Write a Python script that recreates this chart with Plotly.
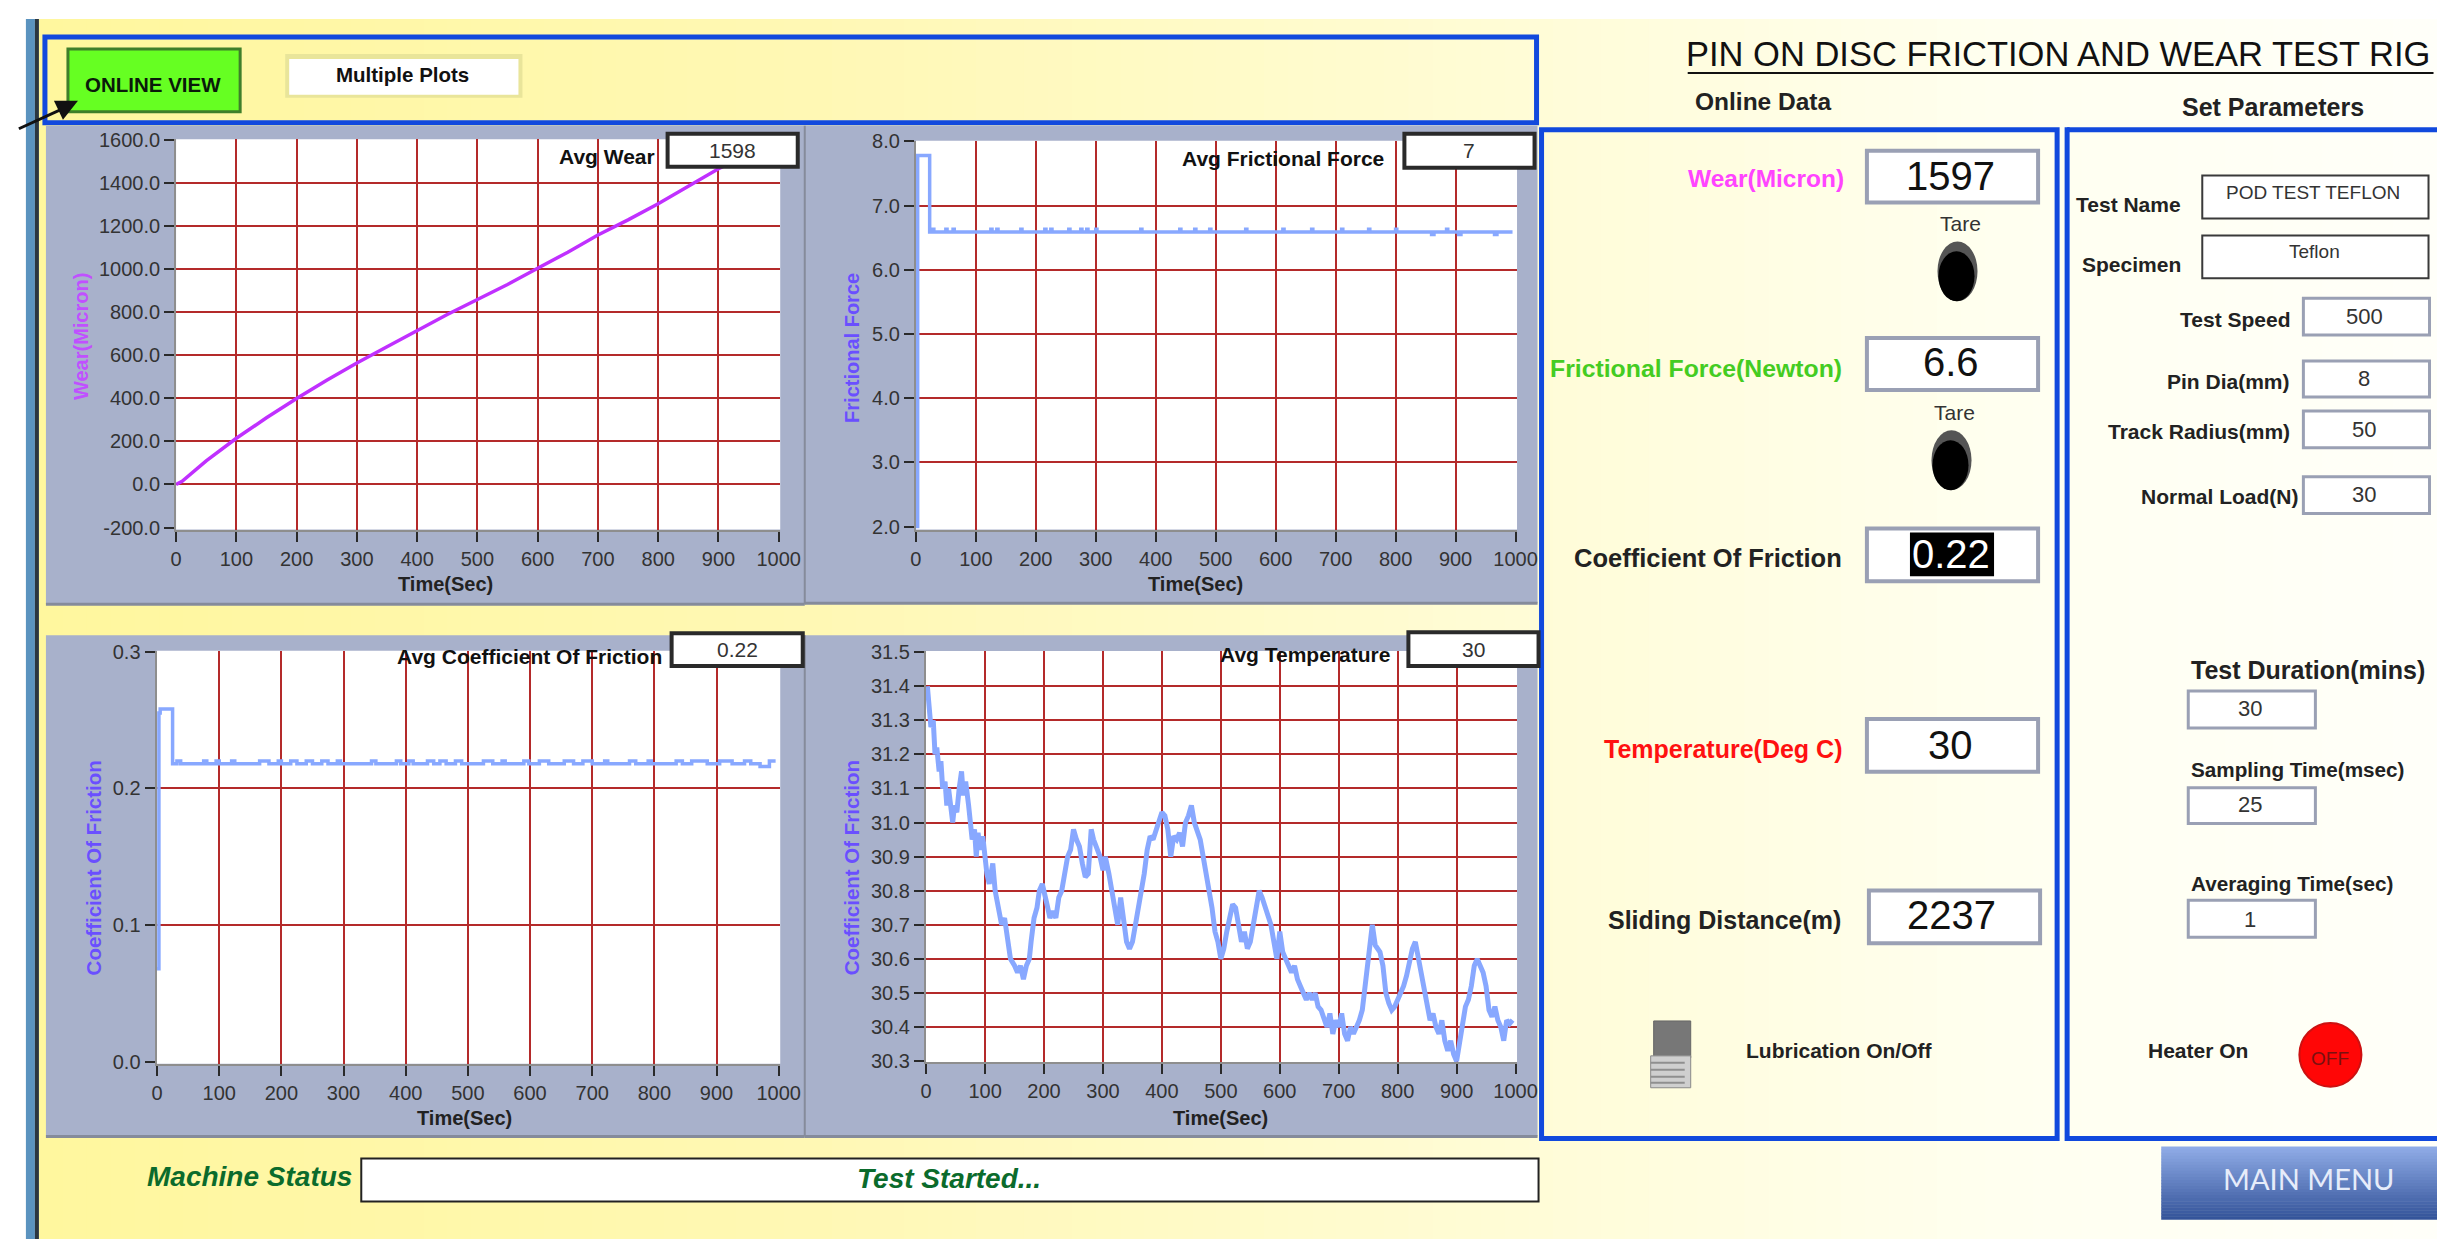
import plotly.graph_objects as go

W, H = 2445, 1239
PAD = 8
# the rendered page comes out slightly reduced and offset; these undo that
BX, AX, BY, AY = 0.988, 7.2, 0.987, 9.0
FW = int((W - AX) / BX) - PAD + 12
FH = int((H - AY) / BY) - PAD + 6
SANS = "Liberation Sans"

# ---------- data ----------
time_ticks = [0, 100, 200, 300, 400, 500, 600, 700, 800, 900, 1000]
wear_ticks = [-200, 0, 200, 400, 600, 800, 1000, 1200, 1400, 1600]
force_ticks = [2, 3, 4, 5, 6, 7, 8]
cof_ticks = [0.0, 0.1, 0.2, 0.3]
temp_ticks = [30.3, 30.4, 30.5, 30.6, 30.7, 30.8, 30.9, 31.0, 31.1, 31.2, 31.3, 31.4, 31.5]

wear_t = [0, 10, 50, 100, 150, 200, 250, 300, 350, 400, 450, 500, 550, 600, 650, 700, 750, 800, 850, 900, 950, 1000]
wear_v = [0, 15, 110, 215, 310, 400, 485, 565, 640, 715, 790, 860, 930, 1005, 1080, 1160, 1230, 1305, 1385, 1468, 1535, 1598]

force_t = [0, 1, 3, 20, 23, 28, 30, 50, 52, 62, 64, 125, 127, 135, 137, 175, 177, 215, 217, 225, 227, 255, 257, 275, 277, 285, 287, 300, 302,
           375, 377, 440, 442, 465, 467, 490, 492, 550, 552, 612, 614, 660, 662, 710, 712, 755, 757, 800, 802, 860, 864, 885, 887, 905, 909, 965, 969, 995]
force_v = [2.0, 2.0, 7.78, 7.78, 6.59, 6.63, 6.59, 6.63, 6.59, 6.63, 6.59, 6.63, 6.59, 6.63, 6.59, 6.63, 6.59, 6.63, 6.59, 6.63, 6.59, 6.63, 6.59, 6.63, 6.59, 6.63, 6.59, 6.63, 6.59,
           6.63, 6.59, 6.63, 6.59, 6.63, 6.59, 6.63, 6.59, 6.63, 6.59, 6.63, 6.59, 6.63, 6.59, 6.63, 6.59, 6.63, 6.59, 6.63, 6.59, 6.55, 6.59, 6.63, 6.59, 6.55, 6.59, 6.55, 6.59, 6.59]

cof_t = [0, 1, 3, 5, 22, 25, 32, 38, 75, 80, 95, 100, 120, 125, 165, 180, 195, 200, 215, 225, 240, 250, 265, 275, 290, 295, 345, 352, 385, 392,
         405, 412, 435, 445, 455, 465, 480, 490, 525, 540, 555, 560, 590, 598, 615, 630, 655, 670, 685, 700, 720, 725, 760, 770, 790, 795, 835, 845, 860, 885, 905, 925, 945, 955, 970, 985, 995]
cof_v = [0.068, 0.068, 0.255, 0.258, 0.258, 0.218, 0.22, 0.218, 0.22, 0.218, 0.22, 0.218, 0.22, 0.218, 0.22, 0.218, 0.22, 0.218, 0.22, 0.218, 0.22, 0.218, 0.22, 0.218, 0.22, 0.218, 0.22, 0.218, 0.22, 0.218,
         0.22, 0.218, 0.22, 0.218, 0.22, 0.218, 0.22, 0.218, 0.22, 0.218, 0.22, 0.218, 0.22, 0.218, 0.22, 0.218, 0.22, 0.218, 0.22, 0.218, 0.22, 0.218, 0.22, 0.218, 0.22, 0.218, 0.22, 0.218, 0.22, 0.218, 0.22, 0.218, 0.22, 0.218, 0.216, 0.22, 0.22]

temp_t = [2, 5, 8, 12, 15, 18, 22, 25, 28, 32, 35, 38, 42, 45, 48, 52, 56, 60, 63, 67, 72, 75, 78, 82, 85, 88, 92, 96, 100, 103, 107, 110, 113, 117, 122, 128, 133, 138, 143, 150, 155, 160, 165, 170, 175, 178, 183, 188, 192, 197,
          201, 205, 210, 215, 220, 225, 230, 235, 240, 245, 250, 255, 260, 265, 270, 275, 280, 284, 290, 295, 300, 304, 310, 315, 320, 325, 330, 335, 340, 345, 350, 355, 360, 365, 370, 375, 380, 385, 390, 395,
          400, 405, 410, 415, 420, 425, 430, 435, 440, 445, 450, 455, 460, 465, 470, 475, 480, 485, 490, 495, 500, 505, 510, 515, 520, 525, 530, 535, 540, 545, 550, 555, 560, 565, 570, 575, 580, 585, 590, 595,
          600, 605, 610, 615, 620, 625, 630, 635, 640, 645, 650, 655, 660, 665, 670, 675, 680, 685, 690, 695, 700, 705, 710, 715, 720, 725, 730, 735, 740, 745, 750, 755, 757, 762, 770, 775, 780, 785, 790, 795,
          800, 805, 810, 815, 820, 825, 830, 835, 840, 845, 850, 855, 860, 865, 870, 875, 880, 885, 890, 895, 900, 905, 910, 915, 920, 925, 930, 935, 940, 945, 950, 955, 960, 965, 970, 975, 980, 985, 990, 995]
temp_v = [31.40, 31.35, 31.28, 31.30, 31.20, 31.22, 31.15, 31.18, 31.10, 31.12, 31.05, 31.10, 31.02, 31.00, 31.05, 31.03, 31.10, 31.15, 31.08, 31.12, 31.05, 31.00, 30.95, 30.98, 30.90, 30.97, 30.92, 30.96, 30.88, 30.85, 30.82, 30.85, 30.88, 30.80, 30.75, 30.70, 30.72, 30.65, 30.60, 30.58, 30.56, 30.58, 30.54, 30.58, 30.60, 30.65, 30.72, 30.75, 30.80, 30.82,
          30.78, 30.76, 30.72, 30.74, 30.72, 30.78, 30.80, 30.85, 30.90, 30.92, 30.98, 30.95, 30.93, 30.88, 30.84, 30.85, 30.98, 30.95, 30.92, 30.90, 30.86, 30.90, 30.85, 30.80, 30.74, 30.70, 30.78, 30.72, 30.65, 30.63, 30.65, 30.70, 30.75, 30.78, 30.85, 30.92, 30.96, 30.95, 30.98, 31.00,
          31.03, 31.02, 30.98, 30.90, 30.96, 30.95, 30.97, 30.93, 31.00, 31.02, 31.05, 31.00, 30.97, 30.95, 30.90, 30.85, 30.82, 30.75, 30.68, 30.65, 30.60, 30.63, 30.68, 30.72, 30.76, 30.75, 30.70, 30.65, 30.68, 30.63, 30.65, 30.70, 30.75, 30.80, 30.78, 30.75, 30.72, 30.70, 30.65, 30.60,
          30.68, 30.62, 30.60, 30.58, 30.56, 30.58, 30.54, 30.52, 30.50, 30.48, 30.50, 30.48, 30.50, 30.46, 30.45, 30.42, 30.40, 30.44, 30.38, 30.42, 30.40, 30.44, 30.38, 30.36, 30.40, 30.38, 30.40, 30.42, 30.45, 30.52, 30.60, 30.65, 30.70, 30.64, 30.62, 30.58, 30.50, 30.47, 30.45, 30.46,
          30.48, 30.50, 30.52, 30.55, 30.60, 30.63, 30.65, 30.60, 30.55, 30.50, 30.46, 30.42, 30.44, 30.40, 30.38, 30.42, 30.36, 30.33, 30.36, 30.32, 30.30, 30.35, 30.42, 30.46, 30.48, 30.52, 30.58, 30.60, 30.58, 30.56, 30.52, 30.45, 30.43, 30.46, 30.42, 30.40, 30.36, 30.42, 30.41, 30.42]

# ---------- helpers ----------
def px(x): return ((x - AX) / BX - PAD) / FW
def py(y): return 1 - ((y - AY) / BY - PAD) / FH

shapes, annos = [], []

def rect(x0, y0, x1, y1, fill=None, line=None, lw=0, layer="below"):
    shapes.append(dict(type="rect", xref="paper", yref="paper", x0=px(x0), x1=px(x1), y0=py(y1), y1=py(y0),
                       fillcolor=fill or "rgba(0,0,0,0)", line=dict(color=line or "rgba(0,0,0,0)", width=lw), layer=layer))

def oval(x0, y0, x1, y1, fill, line=None, lw=0):
    shapes.append(dict(type="circle", xref="paper", yref="paper", x0=px(x0), x1=px(x1), y0=py(y1), y1=py(y0),
                       fillcolor=fill, line=dict(color=line or "rgba(0,0,0,0)", width=lw), layer="above"))

def seg(x0, y0, x1, y1, color, lw, layer="above"):
    shapes.append(dict(type="line", xref="paper", yref="paper", x0=px(x0), x1=px(x1), y0=py(y0), y1=py(y1),
                       line=dict(color=color, width=lw), layer=layer))

def text(x, y, s, size, color="#111111", weight="normal", anchor="center", family=SANS, style="normal", angle=0):
    annos.append(dict(x=px(x), y=py(y), xref="paper", yref="paper", text=s, showarrow=False, xanchor=anchor, yanchor="middle",
                      textangle=angle, font=dict(size=size, color=color, family=family, weight=weight, style=style)))

def hexmix(a, b, t):
    ca = [int(a[i:i + 2], 16) for i in (1, 3, 5)]
    cb = [int(b[i:i + 2], 16) for i in (1, 3, 5)]
    return "rgb(%d,%d,%d)" % tuple(round(p + (q - p) * t) for p, q in zip(ca, cb))

RIGHT, BOTTOM = W + 10, H + 5

# ---------- background ----------
stops = [(40, "#fff79e"), (800, "#fff8b4"), (1500, "#fffcd6"), (2000, "#fffff0"), (2460, "#fffffa")]
for x in range(40, RIGHT, 24):
    for (a, ca), (b, cb) in zip(stops, stops[1:]):
        if a <= x <= b:
            rect(x, 18, min(x + 25, RIGHT), BOTTOM, hexmix(ca, cb, (x - a) / (b - a)))
            break
rect(27, 18, 36, BOTTOM, "#5b93bf")
rect(36, 18, 40, BOTTOM, "#2b3640")

# ---------- frames ----------
BLUE = "#1149dd"
rect(46, 36, 1536, 122, None, BLUE, 5)
rect(1541, 129, 2056, 1141, None, BLUE, 5)
seg(2066, 126.5, 2066, 1143.5, BLUE, 5, "below")
seg(2066, 129, RIGHT, 129, BLUE, 5, "below")
seg(2066, 1141, RIGHT, 1141, BLUE, 5, "below")

# ---------- top-left controls ----------
rect(69, 48, 241, 111, "#66ff22", "#3f7f2a", 3)
text(154, 84, "ONLINE VIEW", 20.5, "#0a1a0a", "bold")
rect(286, 53, 523, 97, "#e9e59a")
rect(290, 58, 519, 94, "#ffffff")
text(403, 74, "Multiple Plots", 20.5, "#111111", "bold")
seg(20, 128, 70, 105, "#111111", 3)
shapes.append(dict(type="path", xref="paper", yref="paper", layer="above", fillcolor="#111111", line=dict(width=0),
                   path="M %f %f L %f %f L %f %f Z" % (px(79), py(100), px(55), py(100), px(64), py(119))))

# ---------- chart panels ----------
PANEL = "#a8b1cb"
panels = [(47, 125, 805, 605), (805, 125, 1537, 604), (47, 636, 805, 1139), (805, 636, 1537, 1139)]
for x0, y0, x1, y1 in panels:
    rect(x0, y0, x1, y1, PANEL)
    seg(x0, y1, x1, y1, "#858b9b", 3, "below")
seg(805, 125, 805, 605, "#858b9b", 2, "below")
seg(805, 636, 805, 1139, "#858b9b", 2, "below")

fig = go.Figure()

def span(a, pa, b, pb, left, right):
    k = (b - a) / (pb - pa)
    return [a + (left - pa) * k, a + (right - pa) * k]

def add_chart(n, t, v, color, lw, area, xcal, ycal, yticks, ytext, shape="linear"):
    left, right, top, bottom = area
    rect(left, top, right, bottom, "#ffffff")
    xid, yid = ("x", "y") if n == 1 else (f"x{n}", f"y{n}")
    fig.add_trace(go.Scatter(x=t, y=v, mode="lines", line=dict(color=color, width=lw, shape=shape), xaxis=xid, yaxis=yid,
                             showlegend=False, hoverinfo="skip"))
    yr = span(ycal[0], ycal[1], ycal[2], ycal[3], bottom, top)
    common = dict(showline=True, linecolor="#8e8e8e", linewidth=2, ticks="outside", tickcolor="#2a2a2a", tickwidth=2,
                  ticklen=10, showgrid=False, zeroline=False,
                  tickfont=dict(family=SANS, size=20, color="#333333"))
    inner_x = time_ticks[1:-1]
    inner_y = [y for y in yticks if yr[0] + (yr[1] - yr[0]) * 0.02 < y < yr[1] - (yr[1] - yr[0]) * 0.02]
    grid = dict(showgrid=True, gridcolor="#b42a2a", gridwidth=2, ticks="")
    fig.update_layout({
        ("xaxis" if n == 1 else f"xaxis{n}"): dict(common, domain=[px(left), px(right)], anchor=yid,
            range=span(xcal[0], xcal[1], xcal[2], xcal[3], left, right), tickmode="array", tickvals=time_ticks,
            ticktext=[str(x) for x in time_ticks], minor=dict(grid, tickmode="array", tickvals=inner_x)),
        ("yaxis" if n == 1 else f"yaxis{n}"): dict(common, domain=[py(bottom), py(top)], anchor=xid,
            range=yr, tickmode="array", tickvals=yticks, ticktext=ytext,
            minor=dict(grid, tickmode="array", tickvals=inner_y)),
    })

LINE = "#88a8ff"
add_chart(1, wear_t, wear_v, "#c030ff", 3.5, (177, 780.5, 138.5, 530), (0, 177, 1000, 779), (1600, 139.6, -200, 528),
          wear_ticks, [f"{y:.1f}" for y in wear_ticks])
add_chart(2, force_t, force_v, LINE, 3.5, (916, 1516.5, 140, 530), (0, 916, 1000, 1515), (8, 140.7, 2, 527),
          force_ticks, [f"{y:.1f}" for y in force_ticks], "hv")
add_chart(3, cof_t, cof_v, LINE, 3.5, (157.5, 780.5, 651.5, 1066), (0, 158, 1000, 779), (0.3, 652.4, 0, 1064),
          cof_ticks, [f"{y:.1f}" for y in cof_ticks], "hv")
add_chart(4, temp_t, temp_v, LINE, 5, (926, 1516.5, 651.8, 1064.5), (0, 926.3, 1000, 1515), (31.5, 653, 30.3, 1063.3),
          temp_ticks, [f"{y:.1f}" for y in temp_ticks])

for x, y in [(446, 585), (1195, 585), (465, 1120), (1220, 1120)]:
    text(x, y, "Time(Sec)", 20, "#222222", "bold")
text(82, 336, "Wear(Micron)", 20, "#c050ff", "bold", angle=-90)
text(852, 348, "Frictional Force", 20, "#6a4fff", "bold", angle=-90)
text(94, 869, "Coefficient Of Friction", 20.5, "#6a4fff", "bold", angle=-90)
text(852, 869, "Coefficient Of Friction", 20.5, "#6a4fff", "bold", angle=-90)

# average read-outs
avg_boxes = [(668, 133, 798, 166, "1598", "Avg Wear", 607, 156), (1404, 133, 1534, 167, "7", "Avg Frictional Force", 1283, 158),
             (672, 634, 803, 667, "0.22", "Avg Coefficient Of Friction", 530, 657), (1408, 633, 1538, 667, "30", "Avg Temperature", 1305, 655)]
for x0, y0, x1, y1, val, lab, lx, ly in avg_boxes:
    rect(x0, y0, x1, y1, "#ffffff", "#2a2a2a", 4, "above")
    text((x0 + x1) / 2, (y0 + y1) / 2, val, 21, "#333333")
    text(lx, ly, lab, 21, "#111111", "bold")

# ---------- machine status ----------
text(250, 1179, "Machine Status", 28, "#0b6b2c", "bold", style="italic")
rect(362, 1161, 1538, 1204, "#ffffff", "#222222", 2)
text(949, 1181, "Test Started...", 28, "#0b6b2c", "bold", style="italic")

# ---------- heading ----------
text(2057, 53, "PIN ON DISC FRICTION AND WEAR TEST RIG", 34.5, "#111111")
seg(1687, 72, 2432, 72, "#111111", 2)
text(1763, 101, "Online Data", 24.5, "#222222", "bold")
text(2272, 106, "Set Parameters", 25, "#222222", "bold")

# ---------- online data ----------
INDIC = "#9aa0b4"
indicators = [(1866, 150, 2037, 202, "1597", 1950, 175), (1866, 338, 2037, 390, "6.6", 1950, 362),
              (1866, 529, 2037, 582, "", 1950, 555), (1866, 720, 2037, 773, "30", 1950, 746), (1868, 892, 2039, 945, "2237", 1951, 917)]
for x0, y0, x1, y1, val, tx, ty in indicators:
    rect(x0, y0, x1, y1, "#ffffff", INDIC, 4)
    if val:
        text(tx, ty, val, 40, "#111111")
rect(1909, 533, 1993, 577, "#000000", layer="above")
text(1950, 555, "0.22", 40, "#ffffff")
text(1845, 178, "Wear(Micron)", 24.5, "#ff44ff", anchor="right", weight="bold")
text(1843, 368, "Frictional Force(Newton)", 24.8, "#44cc22", anchor="right", weight="bold")
text(1843, 559, "Coefficient Of Friction", 25.5, "#222222", anchor="right", weight="bold")
text(1843, 750, "Temperature(Deg C)", 25, "#ff1111", anchor="right", weight="bold")
text(1842, 922, "Sliding Distance(m)", 25, "#222222", anchor="right", weight="bold")

for tx, ty, cx, cy in [(1959, 223, 1956.5, 271), (1953, 413, 1950.5, 460.5)]:
    text(tx, ty, "Tare", 21, "#333333")
    oval(cx - 20, cy - 30, cx + 20, cy + 30, "#555555")
    oval(cx - 19, cy - 20, cx + 17, cy + 30, "#000000")

# lubrication switch
rect(1653, 1023, 1690, 1060, "#777777", "#666666", 1, "above")
rect(1650, 1058, 1690, 1090, "#cfcfcf", "#8a8a8a", 1, "above")
for y in (1065, 1072, 1079, 1085):
    seg(1650, y, 1684, y, "#8f8f8f", 2)
text(1838, 1053, "Lubrication On/Off", 21, "#222222", "bold")

# ---------- set parameters ----------
text(2182, 204, "Test Name", 21, "#222222", "bold", anchor="right")
rect(2201, 175, 2427, 218, "#ffffff", "#3a3a3a", 2)
text(2312, 192, "POD TEST TEFLON", 19, "#333333")
text(2182, 264, "Specimen", 21, "#222222", "bold", anchor="right")
rect(2201, 235, 2427, 278, "#ffffff", "#3a3a3a", 2)
text(2313, 251, "Teflon", 19, "#333333")

params = [("Test Speed", 2291, 319, 298, 335, "500", 316), ("Pin Dia(mm)", 2291, 382, 361, 397, "8", 379),
          ("Track Radius(mm)", 2291, 432, 411, 448, "50", 430), ("Normal Load(N)", 2300, 497, 477, 514, "30", 495)]
for lab, lx, ly, y0, y1, val, vy in params:
    text(lx, ly, lab, 21, "#222222", "bold", anchor="right")
    rect(2302, y0, 2428, y1, "#ffffff", INDIC, 3)
    text(2363, vy, val, 22, "#333333")

timing = [("Test Duration(mins)", 25, 671, 692, 729, "30", 710), ("Sampling Time(msec)", 20.7, 771, 789, 825, "25", 806),
          ("Averaging Time(sec)", 20.7, 885, 902, 939, "1", 921)]
for lab, size, ly, y0, y1, val, vy in timing:
    text(2188, ly, lab, size, "#222222", "bold", anchor="left")
    rect(2187, y0, 2314, y1, "#ffffff", INDIC, 3)
    text(2249, vy, val, 22, "#333333")

text(2197, 1053, "Heater On", 21, "#222222", "bold")
oval(2298, 1025, 2360, 1089, "#ff0606", "#cc1111", 2)
text(2329, 1061, "OFF", 19, "#7a1010")

# main menu button
steps = 24
for i in range(steps):
    y0 = 1149 + (1222 - 1149) * i / steps
    y1 = 1149 + (1222 - 1149) * (i + 1) / steps + 0.5
    rect(2160, y0, RIGHT, y1, hexmix("#8fabe6", "#34549a", i / (steps - 1)))
text(2307, 1181, "MAIN MENU", 29, "#e6ecfa", family="Lato")

fig.update_layout(width=FW, height=FH, autosize=False, margin=dict(l=0, r=0, t=0, b=0, pad=0),
                  paper_bgcolor="#ffffff", plot_bgcolor="#ffffff", showlegend=False,
                  shapes=shapes, annotations=annos)
fig.write_html("out.html", config={"displayModeBar": False})
